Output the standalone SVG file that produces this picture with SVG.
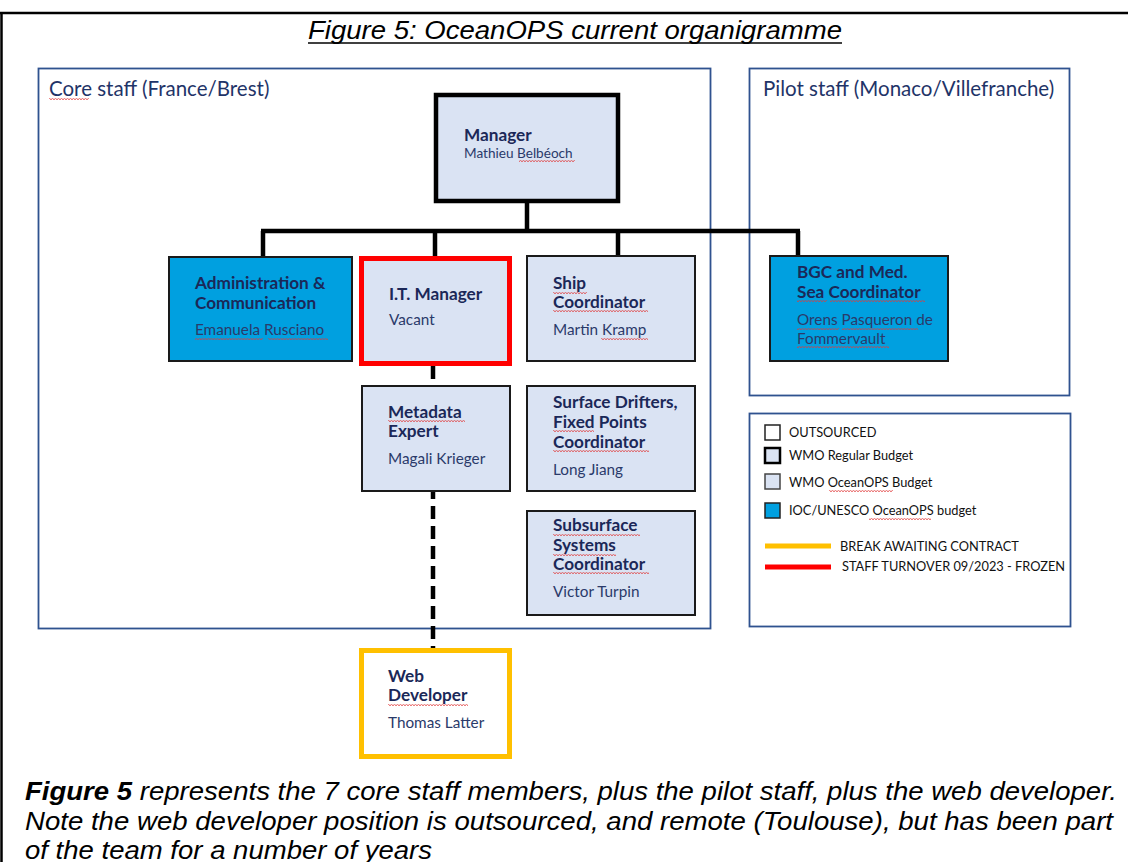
<svg xmlns="http://www.w3.org/2000/svg" width="1128" height="862" viewBox="0 0 1128 862">
  <style>
    .frame { fill: none; stroke: #000; stroke-width: 2.5; }
    .zone { fill: none; stroke: #2F528F; stroke-width: 1.8; }
    .zone-label { font-family: Lato, "Open Sans", sans-serif; font-size: 20.5px; fill: #1F3468; }
    .box { stroke: #1A1A1A; stroke-width: 2; }
    .light { fill: #DAE3F3; }
    .blue { fill: #00A0E0; }
    .regular { stroke: #000; stroke-width: 4.5; }
    .frozen { fill: #DAE3F3; stroke: #FF0000; stroke-width: 5; }
    .awaiting { fill: #FFFFFF; stroke: #FFC000; stroke-width: 5; }
    .role { font-family: Lato, "Open Sans", sans-serif; font-weight: 700; font-size: 17.2px; fill: #1B2858; }
    .person { font-family: Lato, "Open Sans", sans-serif; font-size: 15.3px; fill: #2A3A6A; }
    .small { font-size: 13.6px; }
    .link { fill: none; stroke: #000; stroke-width: 4.5; }
    .dashed { fill: none; stroke: #000; stroke-width: 4.5; stroke-dasharray: 13 7; }
    .key { font-family: Lato, "Open Sans", sans-serif; font-size: 12.8px; fill: #111; }
    .caption { font-family: "Liberation Sans", Arial, sans-serif; font-style: italic; fill: #000; }
    .wavy { fill: url(#wave); }
  </style>
  <defs>
    <pattern id="wave" width="3" height="2" patternUnits="userSpaceOnUse">
      <path d="M0 1.7 L1.5 0.3 L3 1.7" fill="none" stroke="#E03A3A" stroke-width="0.9"/>
    </pattern>
  </defs>

  <rect width="1128" height="862" fill="#FFFFFF"/>

  <!-- page frame -->
  <path class="frame" d="M0 13 H1128 M1.5 12 V862"/>

  <!-- title -->
  <text class="caption" x="308" y="39" font-size="25" textLength="534" lengthAdjust="spacingAndGlyphs">Figure 5: OceanOPS current organigramme</text>
  <line x1="308" y1="43" x2="842" y2="43" stroke="#000" stroke-width="1.6"/>

  <!-- location zones -->
  <g id="zone-core">
    <rect class="zone" x="38.5" y="68.5" width="672" height="560"/>
    <text class="zone-label" x="49" y="96">Core staff (France/Brest)</text>
  </g>
  <g id="zone-pilot">
    <rect class="zone" x="749.5" y="68.5" width="320" height="327"/>
    <text class="zone-label" x="763" y="96">Pilot staff (Monaco/Villefranche)</text>
  </g>

  <!-- reporting lines -->
  <g id="connectors">
    <path class="link" d="M527 203 V231 M261 231 H800 M263 231 V257 M435 231 V257 M618 231 V256 M798 231 V256"/>
    <path class="dashed" d="M433 366 V648"/>
  </g>

  <g id="node-manager">
    <rect class="light regular" x="436" y="95" width="182" height="106"/>
    <text class="role" x="464" y="141">Manager</text>
    <text class="person small" x="464" y="158">Mathieu Belbéoch</text>
  </g>

  <g id="node-admin">
    <rect class="box blue" x="169" y="257" width="183" height="104"/>
    <text class="role" x="195" y="289">Administration &amp;</text>
    <text class="role" x="195" y="309">Communication</text>
    <text class="person" x="195" y="335">Emanuela Rusciano</text>
  </g>

  <g id="node-it-manager">
    <rect class="frozen" x="361.5" y="258.5" width="148" height="105"/>
    <text class="role" x="389" y="300">I.T. Manager</text>
    <text class="person" x="389" y="325">Vacant</text>
  </g>

  <g id="node-ship">
    <rect class="box light" x="527" y="256" width="168" height="105"/>
    <text class="role" x="553" y="289">Ship</text>
    <text class="role" x="553" y="308">Coordinator</text>
    <text class="person" x="553" y="335">Martin Kramp</text>
  </g>

  <g id="node-bgc">
    <rect class="box blue" x="770" y="256" width="178" height="105"/>
    <text class="role" x="797" y="278">BGC and Med.</text>
    <text class="role" x="797" y="298">Sea Coordinator</text>
    <text class="person" x="797" y="325">Orens Pasqueron de</text>
    <text class="person" x="797" y="344">Fommervault</text>
  </g>

  <g id="node-metadata">
    <rect class="box light" x="362" y="386" width="148" height="105"/>
    <text class="role" x="388" y="418">Metadata</text>
    <text class="role" x="388" y="437">Expert</text>
    <text class="person" x="388" y="464">Magali Krieger</text>
  </g>

  <g id="node-surface">
    <rect class="box light" x="527" y="386" width="168" height="105"/>
    <text class="role" x="553" y="408">Surface Drifters,</text>
    <text class="role" x="553" y="428">Fixed Points</text>
    <text class="role" x="553" y="448">Coordinator</text>
    <text class="person" x="553" y="475">Long Jiang</text>
  </g>

  <g id="node-subsurface">
    <rect class="box light" x="527" y="511" width="168" height="104"/>
    <text class="role" x="553" y="531">Subsurface</text>
    <text class="role" x="553" y="551">Systems</text>
    <text class="role" x="553" y="570">Coordinator</text>
    <text class="person" x="553" y="597">Victor Turpin</text>
  </g>

  <g id="node-web">
    <rect class="awaiting" x="361.5" y="650.5" width="148" height="106"/>
    <text class="role" x="388" y="682">Web</text>
    <text class="role" x="388" y="701">Developer</text>
    <text class="person" x="388" y="728">Thomas Latter</text>
  </g>

  <!-- key -->
  <g id="legend">
    <rect class="zone" x="749.5" y="413.5" width="321" height="213"/>
    <rect x="765" y="425" width="15" height="15" fill="#FFFFFF" stroke="#222" stroke-width="1.5"/>
    <text class="key" x="789" y="437">OUTSOURCED</text>
    <rect x="765" y="448" width="15" height="15" fill="#DAE3F3" stroke="#000" stroke-width="2.5"/>
    <text class="key" x="789" y="460">WMO Regular Budget</text>
    <rect x="765" y="474" width="15" height="15" fill="#DAE3F3" stroke="#444" stroke-width="1.5"/>
    <text class="key" x="789" y="487">WMO OceanOPS Budget</text>
    <rect x="765" y="503" width="15" height="15" fill="#00A0E0" stroke="#222" stroke-width="1.5"/>
    <text class="key" x="789" y="515">IOC/UNESCO OceanOPS budget</text>
    <line x1="765" y1="546" x2="831" y2="546" stroke="#FFC000" stroke-width="5"/>
    <text class="key" x="840" y="551">BREAK AWAITING CONTRACT</text>
    <line x1="765" y1="567" x2="831" y2="567" stroke="#FF0000" stroke-width="5"/>
    <text class="key" x="842" y="571">STAFF TURNOVER 09/2023 - FROZEN</text>
  </g>

  <!-- proofing marks under flagged words -->
  <g id="proofing-marks">
    <rect class="wavy" x="49" y="98" width="40" height="2"/>
    <rect class="wavy" x="519" y="160" width="56" height="2"/>
    <rect class="wavy" x="195" y="338" width="68" height="2"/>
    <rect class="wavy" x="268" y="338" width="60" height="2"/>
    <rect class="wavy" x="553" y="292" width="34" height="2"/>
    <rect class="wavy" x="553" y="310" width="95" height="2"/>
    <rect class="wavy" x="601" y="338" width="47" height="2"/>
    <rect class="wavy" x="797" y="300" width="30" height="2"/>
    <rect class="wavy" x="830" y="300" width="95" height="2"/>
    <rect class="wavy" x="797" y="328" width="42" height="2"/>
    <rect class="wavy" x="842" y="328" width="76" height="2"/>
    <rect class="wavy" x="797" y="346" width="92" height="2"/>
    <rect class="wavy" x="388" y="420" width="77" height="2"/>
    <rect class="wavy" x="553" y="430" width="41" height="2"/>
    <rect class="wavy" x="553" y="450" width="96" height="2"/>
    <rect class="wavy" x="553" y="534" width="87" height="2"/>
    <rect class="wavy" x="553" y="554" width="63" height="2"/>
    <rect class="wavy" x="553" y="572" width="96" height="2"/>
    <rect class="wavy" x="388" y="704" width="80" height="2"/>
    <rect class="wavy" x="829" y="490" width="64" height="2"/>
    <rect class="wavy" x="869" y="518" width="62" height="2"/>
  </g>

  <!-- caption below the chart -->
  <text class="caption" x="25" y="800" font-size="25" textLength="1092" lengthAdjust="spacingAndGlyphs"><tspan font-weight="700">Figure 5</tspan> represents the 7 core staff members, plus the pilot staff, plus the web developer.</text>
  <text class="caption" x="25" y="830" font-size="25" textLength="1088" lengthAdjust="spacingAndGlyphs">Note the web developer position is outsourced, and remote (Toulouse), but has been part</text>
  <text class="caption" x="25" y="859" font-size="25" textLength="407" lengthAdjust="spacingAndGlyphs">of the team for a number of years</text>
</svg>
